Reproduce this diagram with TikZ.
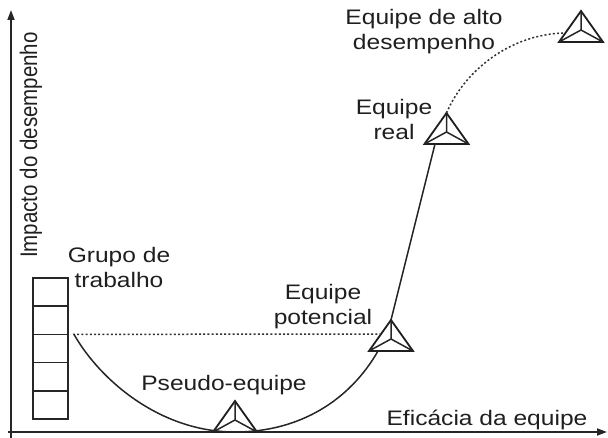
\documentclass[tikz,border=0pt]{standalone}
\usepackage{fontspec}
\setmainfont{Liberation Sans}
\usepackage{graphicx}
\usetikzlibrary{arrows.meta}
\newcommand\hs[1]{\scalebox{1.17}[1]{#1}}
\tikzset{
  lbl/.style={inner sep=0pt, align=center, text=black!88, font=\fontsize{21}{25}\selectfont},
  axis/.style={line width=1.8pt, draw=black!85, -{Triangle[length=10pt,width=7pt]}},
  curve/.style={line width=1.5pt, draw=black!85},
  dots/.style={line width=1.5pt, draw=black!80, dash pattern=on 2pt off 2.2pt},
  stackbox/.style={draw=black!85, line width=1.5pt, minimum width=35pt, minimum height=28.2pt, inner sep=0pt, outer sep=0pt},
  tri/.pic={
    \coordinate (-bl) at (-22,0);
    \coordinate (-br) at (22,0);
    \coordinate (-apex) at (0,-31);
    \coordinate (-c) at (0,-12);
    \draw[line width=1.8pt, draw=black!88, line join=miter] (-bl) -- (-br) -- (-apex) -- cycle;
    \draw[line width=1.5pt, draw=black!85] (-c) -- (-apex) (-c) -- (-bl) (-c) -- (-br);
  }
}
\begin{document}
\begin{tikzpicture}[x=1pt,y=-1pt]
\useasboundingbox (0,0) rectangle (608,438);
% axes
\coordinate (xend) at (607,432);
\coordinate (yend) at (11,10);
\coordinate (ybot) at (11,438);
\coordinate (xbeg) at (8,432);
\draw[axis] (xbeg) -- (xend);
\draw[axis] (ybot) -- (yend);
\node[lbl, rotate=90] (ylab) at (31,145) {\scalebox{1}[1.17]{\fontsize{20.5}{24}\selectfont Impacto do desempenho}};
\node[lbl, anchor=base] (xlab) at (487,425) {\hs{Eficácia da equipe}};
% stack of boxes
\foreach \i in {0,...,4} {
  \node[stackbox, anchor=north west] (b\i) at (33,{278+28.2*\i}) {};
}
\node[lbl] (grupo) at (119,267) {\hs{Grupo de}\\\hs{trabalho}};
% triangles
\pic (ps) at (235,432) {tri};
\pic (po) at (391,351) {tri};
\pic (re) at (446.5,144) {tri};
\pic (hi) at (581,42) {tri};
\coordinate (bot) at (235,432);
\coordinate (poin) at (378,351);
\coordinate (poleft) at (380,334);
\coordinate (rebase) at (435,144);
\coordinate (hiend) at (563,33);
% curves
\draw[dots] (b2.north east) ++(5,0) -- (poleft);
\draw[curve] (b2.north east) ++(6,0) .. controls (100,380) and (160,432) .. (bot)
  .. controls (300,432) and (350,400) .. (poin);
\draw[curve] (po-apex) -- (rebase);
\draw[dots] (re-apex) .. controls (465,70) and (510,35) .. (hiend);
% labels
\node[lbl] (pseudo) at (224,385) {\hs{Pseudo-equipe}};
\node[lbl] (pot) at (323,307) {\hs{Equipe}\\\hs{potencial}};
\node[lbl] (real) at (394,119) {\hs{Equipe}\\\hs{real}};
\node[lbl] (alto) at (424,32) {\hs{Equipe de alto}\\\hs{desempenho}};
\end{tikzpicture}
\end{document}
